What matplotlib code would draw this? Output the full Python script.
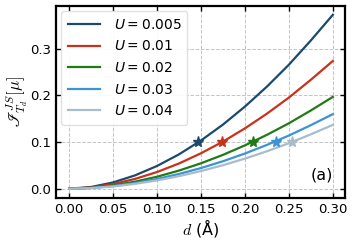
import matplotlib
matplotlib.use("Agg")
import matplotlib.pyplot as plt

d = [0.0, 0.025, 0.05, 0.075, 0.1, 0.125, 0.15, 0.175, 0.2, 0.225, 0.25, 0.275, 0.3]
labels = ["$U = 0.005$", "$U = 0.01$", "$U = 0.02$", "$U = 0.03$", "$U = 0.04$"]
y_u0005 = [0, 0.0038, 0.0136, 0.0287, 0.0489, 0.0738, 0.1035, 0.1376, 0.1762, 0.219, 0.266, 0.318, 0.373]
y_u001 = [0, 0.0028, 0.0100, 0.0211, 0.0359, 0.0542, 0.0761, 0.1011, 0.1295, 0.161, 0.1955, 0.2337, 0.274]
y_u002 = [0, 0.0020, 0.0072, 0.0152, 0.0258, 0.0390, 0.0546, 0.0727, 0.0930, 0.1156, 0.1404, 0.1679, 0.197]
y_u003 = [0, 0.0016, 0.0058, 0.0123, 0.0210, 0.0317, 0.0444, 0.0590, 0.0756, 0.0940, 0.1141, 0.1364, 0.160]
y_u004 = [0, 0.0014, 0.0050, 0.0105, 0.0179, 0.0271, 0.0380, 0.0505, 0.0647, 0.0804, 0.0976, 0.1167, 0.137]
series = [y_u0005, y_u001, y_u002, y_u003, y_u004]
star_d = [0.147, 0.174, 0.209, 0.235, 0.253]
star_y = [0.1, 0.1, 0.1, 0.1, 0.1]
colors = ["#1a4a6e", "#c8321a", "#217a14", "#3b93d6", "#a8bccc"]
xticks = [0.0, 0.05, 0.1, 0.15, 0.2, 0.25, 0.3]
yticks = [0.0, 0.1, 0.2, 0.3]

fig = plt.figure(figsize=(3.54, 2.47), dpi=100)
ax = fig.add_axes([0.158, 0.198, 0.817, 0.778])

for ys, c, lab in zip(series, colors, labels):
    ax.plot(d, ys, color=c, lw=1.6, label=lab)
for sx, sy, c in zip(star_d, star_y, colors):
    ax.plot([sx], [sy], marker="*", color=c, ms=8, ls="none")

ax.set_xlim(-0.015, 0.314)
ax.set_ylim(-0.02, 0.392)
ax.set_xticks(xticks)
ax.set_yticks(yticks)
ax.set_xticklabels([f"{v:.2f}" for v in xticks])
ax.set_yticklabels([f"{v:.1f}" for v in yticks])
ax.tick_params(direction="in", top=True, right=True, labelsize=9.5, length=3.5, width=1)
for s in ax.spines.values():
    s.set_linewidth(1.6)
ax.grid(True, ls="--", color="#c4c4c4", lw=0.7)

ax.set_xlabel("$d$ (Å)", fontsize=11.5, labelpad=1, math_fontfamily="cm")
ax.set_ylabel(r"$\mathscr{I}^{JS}_{T_d}[\mu]$", fontsize=12, math_fontfamily="cm", labelpad=0)
ax.text(0.3, 0.03, "(a)", fontsize=11.5, ha="right", va="center")

leg = ax.legend(loc="upper left", fontsize=10, handlelength=2.3, borderpad=0.45,
                labelspacing=0.55, handletextpad=1.0, framealpha=0.9, edgecolor="#dddddd",
                borderaxespad=0.4)
fig.savefig("out.png", dpi=100)
